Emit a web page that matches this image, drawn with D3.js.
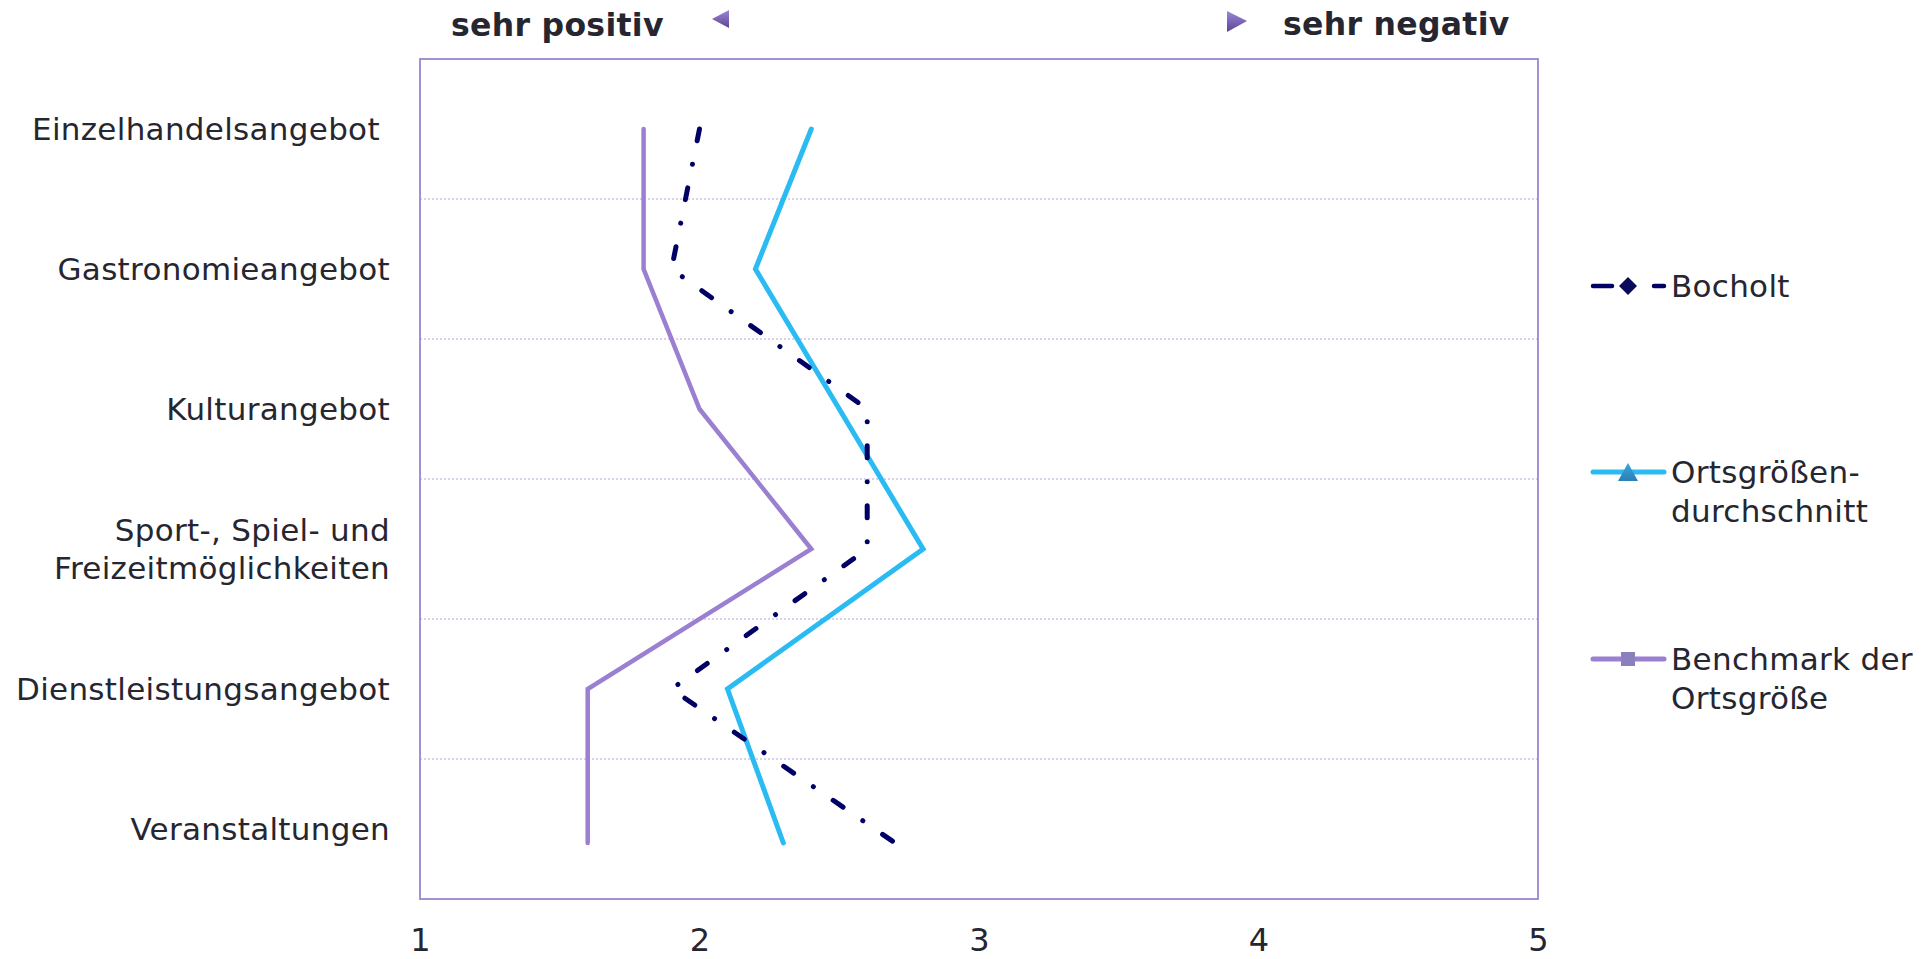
<!DOCTYPE html>
<html>
<head>
<meta charset="utf-8">
<script src="https://cdn.jsdelivr.net/npm/d3@7"></script>
<style>
  html, body { margin: 0; padding: 0; background: #ffffff; }
  svg { display: block; }
  text { font-family: "DejaVu Sans", Verdana, sans-serif; fill: #262631; }
</style>
</head>
<body>
<svg id="chart" width="1929" height="959"></svg>
<script>
// ---------- data ----------
const categories = [
  ["Einzelhandelsangebot "],
  ["Gastronomieangebot"],
  ["Kulturangebot"],
  ["Sport-, Spiel- und", "Freizeitmöglichkeiten"],
  ["Dienstleistungsangebot"],
  ["Veranstaltungen"]
];
// scatter y values of the points (top = 6, bottom = 0)
const pointY = [5.5, 4.5, 3.5, 2.5, 1.5, 0.4];
const categoryY = [5.5, 4.5, 3.5, 2.5, 1.5, 0.5];
const gridY = [1, 2, 3, 4, 5];

const bocholt      = [2.0, 1.9, 2.6, 2.6, 1.9, 2.7];
const ortsgroesse  = [2.4, 2.2, 2.5, 2.8, 2.1, 2.3];
const benchmark    = [1.8, 1.8, 2.0, 2.4, 1.6, 1.6];

const xTicks = [1, 2, 3, 4, 5];
const seriesNames = [["Bocholt"], ["Ortsgrößen-", "durchschnitt"], ["Benchmark der", "Ortsgröße"]];
const headerLeft = "sehr positiv";
const headerRight = "sehr negativ";

// ---------- layout ----------
const plot = { left: 420, right: 1538, top: 59, bottom: 899 };
const svg = d3.select("#chart");

const x = d3.scaleLinear().domain([1, 5]).range([plot.left, plot.right]);
const y = d3.scaleLinear().domain([0, 6]).range([plot.bottom, plot.top]);

const colors = { bocholt: "#000066", orts: "#2bbbf3", bench: "#9b7fd1" };

// gradients for header triangles / legend markers
const defs = svg.append("defs");
const g1 = defs.append("linearGradient").attr("id", "triGrad").attr("x1", 0).attr("y1", 0).attr("x2", 0).attr("y2", 1);
g1.append("stop").attr("offset", "0%").attr("stop-color", "#9c86d6");
g1.append("stop").attr("offset", "100%").attr("stop-color", "#5d4596");
const g2 = defs.append("linearGradient").attr("id", "blueGrad").attr("x1", 0).attr("y1", 0).attr("x2", 0).attr("y2", 1);
g2.append("stop").attr("offset", "0%").attr("stop-color", "#3aa6dc");
g2.append("stop").attr("offset", "100%").attr("stop-color", "#2a7fb6");

// gridlines (dotted)
svg.append("g").selectAll("line").data(gridY).join("line")
  .attr("x1", plot.left).attr("x2", plot.right)
  .attr("y1", d => y(d)).attr("y2", d => y(d))
  .attr("stroke", "#b6a3e0").attr("stroke-width", 1.2)
  .attr("stroke-dasharray", "2,2");

// frame
svg.append("rect")
  .attr("x", plot.left).attr("y", plot.top)
  .attr("width", plot.right - plot.left).attr("height", plot.bottom - plot.top)
  .attr("fill", "none").attr("stroke", "#9a86cc").attr("stroke-width", 1.8);

// lines
const line = d3.line().x(d => x(d.v)).y(d => y(d.y));
function pts(arr) { return arr.map((v, i) => ({ v, y: pointY[i] })); }

svg.append("path").datum(pts(benchmark)).attr("d", line)
  .attr("fill", "none").attr("stroke", colors.bench).attr("stroke-width", 4.5)
  .attr("stroke-linejoin", "miter").attr("stroke-linecap", "round");

svg.append("path").datum(pts(ortsgroesse)).attr("d", line)
  .attr("fill", "none").attr("stroke", colors.orts).attr("stroke-width", 5)
  .attr("stroke-linejoin", "miter").attr("stroke-linecap", "round");

svg.append("path").datum(pts(bocholt)).attr("d", line)
  .attr("fill", "none").attr("stroke", colors.bocholt).attr("stroke-width", 5)
  .attr("stroke-dasharray", "12,24,0.01,24").attr("stroke-linecap", "round");

// category labels (left)
const catG = svg.append("g");
categories.forEach((lines, i) => {
  const cy = y(categoryY[i]);
  const lh = 38;
  const t = catG.append("text")
    .attr("text-anchor", "end")
    .attr("font-size", 31)
    .attr("letter-spacing", 0.3)
    .style("white-space", "pre");
  lines.forEach((ln, j) => {
    t.append("tspan")
      .attr("x", 390)
      .attr("y", cy + 11 + (j - (lines.length - 1) / 2) * lh)
      .text(ln);
  });
});

// x axis
const xAxis = d3.axisBottom(x).tickValues(xTicks).tickSize(0).tickFormat(d3.format("d"));
const axG = svg.append("g").attr("transform", `translate(0,${plot.bottom})`).call(xAxis);
axG.select(".domain").remove();
axG.selectAll("text")
  .attr("y", 52).attr("dy", 0)
  .attr("font-size", 32)
  .attr("font-family", "DejaVu Sans, Verdana, sans-serif")
  .attr("fill", "#262631");

// header
svg.append("text").attr("x", 451).attr("y", 36)
  .attr("font-size", 31.5).attr("font-weight", "bold").attr("letter-spacing", 0.3).text(headerLeft);
svg.append("text").attr("x", 1283).attr("y", 35)
  .attr("font-size", 31.5).attr("font-weight", "bold").attr("letter-spacing", 0.3).text(headerRight);
svg.append("path").attr("d", "M729,10 L712,19 L729,28 Z").attr("fill", "url(#triGrad)");
svg.append("path").attr("d", "M1227,11 L1247,21 L1227,32 Z").attr("fill", "url(#triGrad)");

// legend
const legX0 = 1593, legX1 = 1664, legMid = 1628, legText = 1671;
const legY = [286, 472, 659];
const legG = svg.append("g");

// Bocholt
legG.append("line").attr("x1", legX0).attr("x2", 1612).attr("y1", legY[0]).attr("y2", legY[0])
  .attr("stroke", colors.bocholt).attr("stroke-width", 4.5).attr("stroke-linecap", "round");
legG.append("line").attr("x1", 1654).attr("x2", legX1).attr("y1", legY[0]).attr("y2", legY[0])
  .attr("stroke", colors.bocholt).attr("stroke-width", 4.5).attr("stroke-linecap", "round");
legG.append("path").attr("d", `M${legMid},${legY[0]-9} L${legMid+9},${legY[0]} L${legMid},${legY[0]+9} L${legMid-9},${legY[0]} Z`)
  .attr("fill", "#0a0a5a");

// Ortsgröße
legG.append("line").attr("x1", legX0).attr("x2", legX1).attr("y1", legY[1]).attr("y2", legY[1])
  .attr("stroke", colors.orts).attr("stroke-width", 5).attr("stroke-linecap", "round");
legG.append("path").attr("d", `M${legMid},${legY[1]-9} L${legMid+10},${legY[1]+9} L${legMid-10},${legY[1]+9} Z`)
  .attr("fill", "url(#blueGrad)");

// Benchmark
legG.append("line").attr("x1", legX0).attr("x2", legX1).attr("y1", legY[2]).attr("y2", legY[2])
  .attr("stroke", colors.bench).attr("stroke-width", 5).attr("stroke-linecap", "round");
legG.append("rect").attr("x", legMid - 7).attr("y", legY[2] - 7).attr("width", 14).attr("height", 14)
  .attr("fill", "#8a80c0");

seriesNames.forEach((lines, i) => {
  const t = legG.append("text").attr("font-size", 31).attr("letter-spacing", 0.3);
  lines.forEach((ln, j) => {
    t.append("tspan").attr("x", legText).attr("y", legY[i] + 11 + j * 39).text(ln);
  });
});
</script>
</body>
</html>
